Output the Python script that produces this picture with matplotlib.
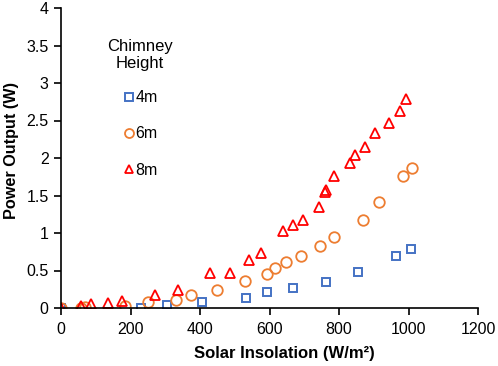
import matplotlib
matplotlib.use("Agg")
import matplotlib.pyplot as plt

plt.rcParams['font.family'] = ['Liberation Sans', 'DejaVu Sans']

x_4m = [0, 229, 305, 406, 533, 593, 667, 764, 856, 963, 1008]
y_4m = [0.0, 0.0, 0.04, 0.08, 0.14, 0.21, 0.27, 0.35, 0.48, 0.69, 0.79]

x_6m = [0, 58, 70, 184, 249, 331, 374, 448, 530, 592, 616, 647, 690, 745, 785, 870, 915, 985, 1009]
y_6m = [0.0, 0.0, 0.01, 0.03, 0.08, 0.11, 0.17, 0.24, 0.36, 0.46, 0.53, 0.61, 0.69, 0.83, 0.95, 1.18, 1.42, 1.76, 1.87]

x_8m = [0, 57, 87, 135, 175, 271, 336, 429, 487, 542, 576, 640, 667, 695, 742, 760, 762,
        786, 832, 847, 875, 905, 945, 976, 993]
y_8m = [0.0, 0.03, 0.05, 0.07, 0.10, 0.17, 0.24, 0.47, 0.47, 0.64, 0.73, 1.03, 1.11, 1.17, 1.35, 1.55, 1.57,
        1.76, 1.93, 2.04, 2.15, 2.33, 2.47, 2.63, 2.79]

labels = ['4m', '6m', '8m']
colors = ['#4472C4', '#ED7D31', '#FF0000']
legend_title = 'Chimney\nHeight'

fig = plt.figure(figsize=(4.98, 3.66), dpi=100)
ax = fig.add_axes([61/498, 1-308/366, 417/498, 300/366])

ax.plot(x_4m, y_4m, linestyle='none', marker='s', ms=6.3, mfc='none', mec=colors[0], mew=1.4, label=labels[0])
ax.plot(x_6m, y_6m, linestyle='none', marker='o', ms=7.6, mfc='none', mec=colors[1], mew=1.3, label=labels[1])
ax.plot(x_8m, y_8m, linestyle='none', marker='^', ms=6.8, mfc='none', mec=colors[2], mew=1.3, label=labels[2])

ax.set_xlim(0, 1200)
ax.set_ylim(0, 4)
ax.set_xticks(range(0, 1201, 200))
ax.set_yticks([0, 0.5, 1, 1.5, 2, 2.5, 3, 3.5, 4])
ax.set_yticklabels(['0', '0.5', '1', '1.5', '2', '2.5', '3', '3.5', '4'])
for s in ['top', 'right']:
    ax.spines[s].set_visible(False)
for s in ['left', 'bottom']:
    ax.spines[s].set_linewidth(1.2)
ax.tick_params(direction='out', length=5, width=1.2, labelsize=11.5, pad=4)
ax.tick_params(axis='x', pad=5)
ax.set_xlabel('Solar Insolation (W/m²)', fontsize=12, fontweight='bold')
ax.set_ylabel('Power Output (W)', fontsize=11.7, fontweight='bold')
ax.xaxis.set_label_coords(0.535, -0.128)
ax.yaxis.set_label_coords(-0.10, 0.525)

ax.text(0.189, 0.843, legend_title, transform=ax.transAxes, ha='center', va='center',
        multialignment='center', fontsize=12, linespacing=1.2)

leg = ax.legend(loc='center left', bbox_to_anchor=(0.136, 0.58),
                frameon=False, fontsize=11.5, labelspacing=1.33,
                handlelength=0.6, handletextpad=0.1, borderaxespad=0, markerscale=0.85)

fig.savefig('out.png', dpi=100)
